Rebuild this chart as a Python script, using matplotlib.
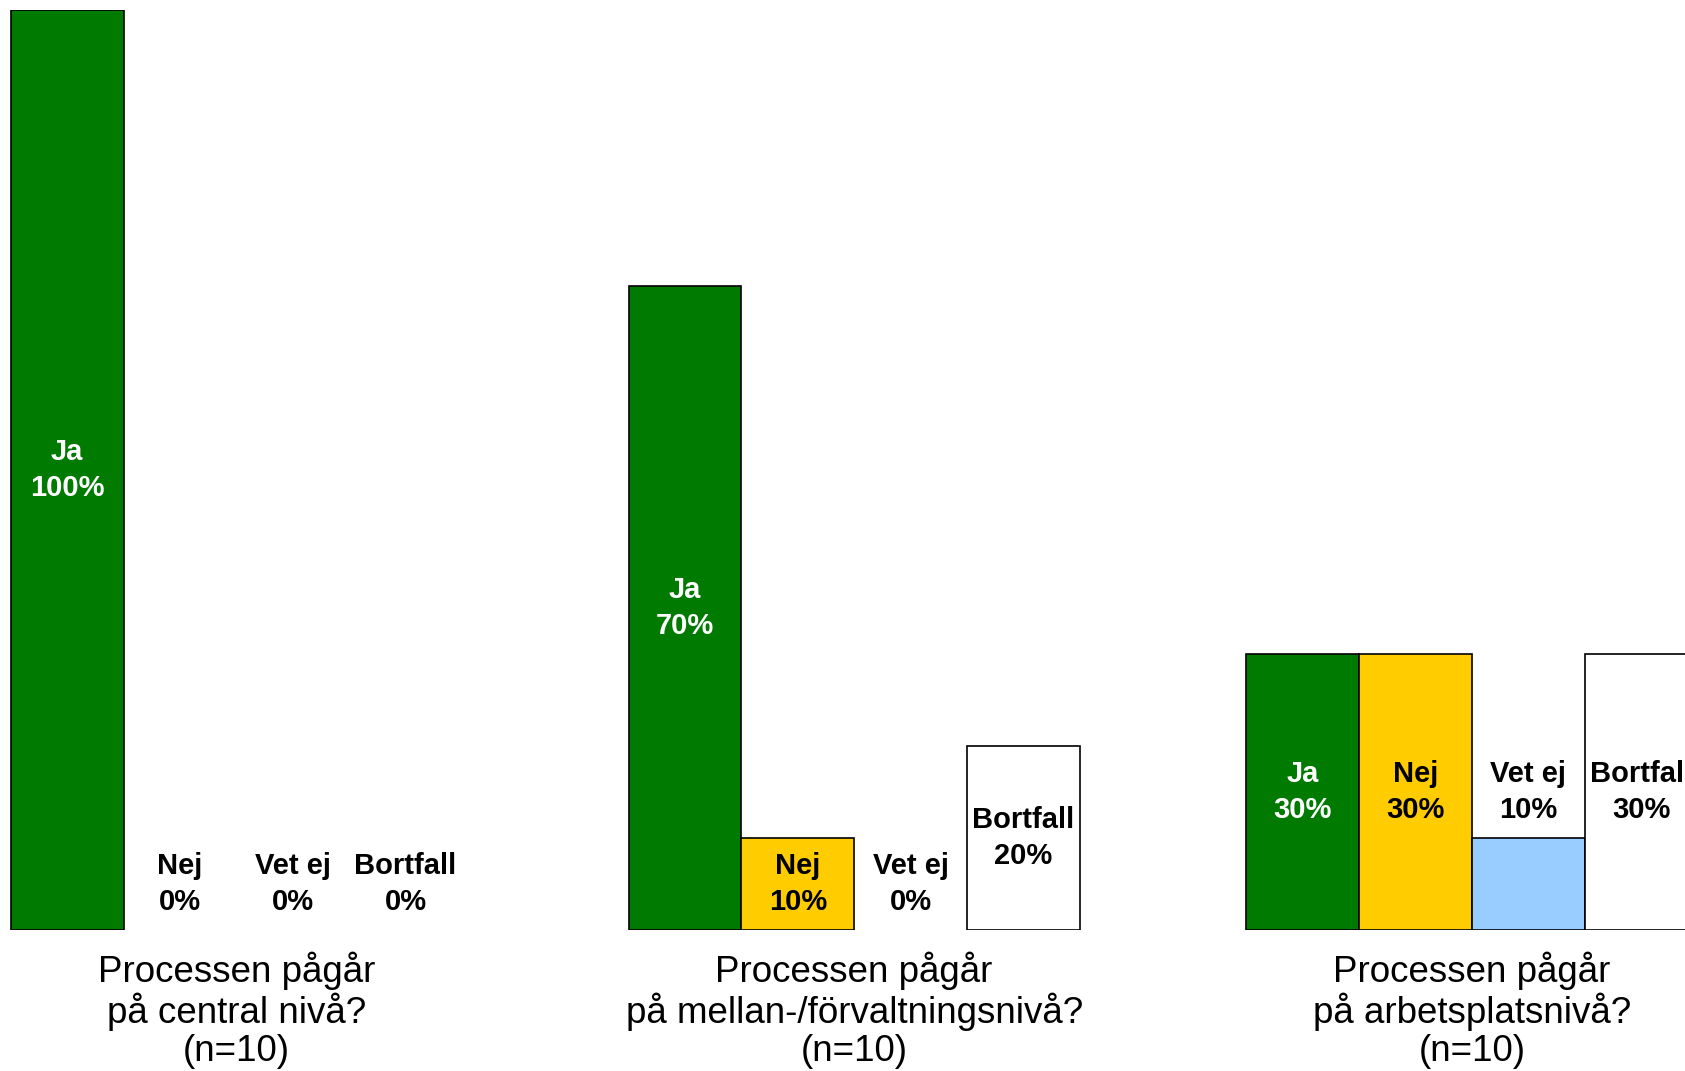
import matplotlib.pyplot as plt
import matplotlib.transforms as mtransforms
import numpy as np

plt.rcParams['font.family'] = ['Liberation Sans', 'DejaVu Sans']

answers = ['Ja', 'Nej', 'Vet ej', 'Bortfall']
colors = ['#007A00', '#FFCC00', '#99CCFF', '#FFFFFF']
text_colors = ['white', 'black', 'black', 'black']
questions = ['Processen pågår\npå central nivå?\n(n=10)',
             'Processen pågår\npå mellan-/förvaltningsnivå?\n(n=10)',
             'Processen pågår\npå arbetsplatsnivå?\n(n=10)']
# percent per question, order Ja / Nej / Vet ej / Bortfall
central = [100, 0, 0, 0]
mellan = [70, 10, 0, 20]
arbetsplats = [30, 30, 10, 30]
values = [central, mellan, arbetsplats]
# labels that sit above the bar instead of inside it
label_above = [[False, True, True, True],
               [False, False, True, False],
               [False, False, True, False]]

group_step = 5.476

fig = plt.figure(figsize=(16.85, 10.71), dpi=100)
ax = fig.add_axes([0, 0.1315, 1, 0.859])

for g, vals in enumerate(values):
    x0 = g * group_step
    for j, v in enumerate(vals):
        x = x0 + j + 0.5
        if v > 0:
            ax.bar(x, v, width=1.0, color=colors[j], edgecolor='black', linewidth=1.2)
        if label_above[g][j]:
            y = v + 5
            tc = 'black'
        else:
            y = v / 2
            tc = text_colors[j]
        ax.text(x, y, '%s\n%d%%' % (answers[j], v), ha='center', va='center',
                fontsize=21, fontweight='bold', color=tc, linespacing=1.38)

trans = mtransforms.blended_transform_factory(ax.transData, fig.transFigure)
for g, q in enumerate(questions):
    ax.text(g * group_step + 2, 0.057, q, transform=trans, ha='center', va='center',
            fontsize=26.5, linespacing=1.1)

ax.set_xlim(-0.095, 14.84)
ax.set_ylim(0, 100)
ax.axis('off')

fig.savefig('out.png', dpi=100)
